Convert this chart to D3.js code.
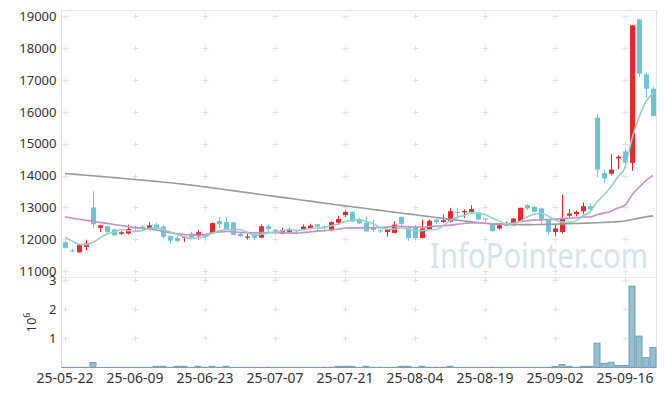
<!DOCTYPE html>
<html lang="en">
<head>
<meta charset="UTF-8">
<title>Price Chart</title>
<style>
    body {
        margin: 0;
        background: #fff;
        font-family: "Noto Sans", sans-serif;
    }
</style>
</head>
<body>
<div id="chart"></div>
<script src="https://d3js.org/d3.v7.min.js"></script>
<script>
// trading days
const dates = [
    '25-05-22','25-05-23','25-05-26','25-05-27','25-05-28','25-05-29','25-05-30',
    '25-06-02','25-06-04','25-06-05','25-06-09','25-06-10','25-06-11','25-06-12','25-06-13',
    '25-06-16','25-06-17','25-06-18','25-06-19','25-06-20',
    '25-06-23','25-06-24','25-06-25','25-06-26','25-06-27','25-06-30',
    '25-07-01','25-07-02','25-07-03','25-07-04','25-07-07','25-07-08','25-07-09','25-07-10','25-07-11',
    '25-07-14','25-07-15','25-07-16','25-07-17','25-07-18','25-07-21','25-07-22','25-07-23','25-07-24','25-07-25',
    '25-07-28','25-07-29','25-07-30','25-07-31','25-08-01','25-08-04','25-08-05','25-08-06','25-08-07','25-08-08',
    '25-08-11','25-08-12','25-08-13','25-08-14','25-08-18','25-08-19','25-08-20','25-08-21','25-08-22',
    '25-08-25','25-08-26','25-08-27','25-08-28','25-08-29','25-09-01','25-09-02','25-09-03','25-09-04','25-09-05',
    '25-09-08','25-09-09','25-09-10','25-09-11','25-09-12','25-09-15','25-09-16','25-09-17','25-09-18','25-09-19','25-09-22'
];

const open = [
    11910, 11650, 11590, 11760, 13000, 12360, 12410, 12310, 12170, 12180,
    12390, 12400, 12360, 12460, 12400, 12100, 12040, 12050, 12180, 12100,
    12160, 12200, 12570, 12540, 12530, 12170, 12050, 12150, 12050, 12410,
    12300, 12180, 12230, 12280, 12320, 12350, 12470, 12410, 12300, 12520,
    12760, 12860, 12620, 12520, 12390, 12280, 12230, 12200, 12700, 12360,
    12390, 12040, 12310, 12620, 12540, 12550, 12860, 12850, 12860, 12810,
    12650, 12500, 12340, 12450, 12440, 12550, 13070, 13020, 12970, 12620,
    12230, 12230, 12740, 12790, 12880, 13040, 15820, 14080, 14060, 14540,
    14760, 14400, 18900, 17180, 16730
];
const high = [
    11930, 11690, 11840, 11990, 13510, 12450, 12430, 12340, 12250, 12460,
    12420, 12440, 12540, 12520, 12450, 12110, 12100, 12110, 12240, 12290,
    12180, 12520, 12700, 12690, 12540, 12200, 12200, 12180, 12470, 12460,
    12330, 12360, 12360, 12310, 12470, 12490, 12490, 12430, 12560, 12740,
    12900, 12880, 12680, 12700, 12620, 12320, 12320, 12560, 12720, 12370,
    12450, 12620, 12620, 12640, 12780, 12990, 12980, 12940, 13070, 12820,
    12660, 12510, 12500, 12560, 12670, 12990, 13100, 13040, 12990, 12640,
    12450, 13390, 12950, 12900, 13160, 13130, 15930, 14190, 14670, 14640,
    14850, 18720, 18920, 17230, 16780
];
const low = [
    11700, 11580, 11580, 11650, 12350, 12230, 12160, 12100, 12140, 12150,
    12270, 12300, 12330, 12290, 12030, 11870, 11900, 11920, 12000, 11990,
    12010, 12190, 12340, 12290, 12130, 12080, 11990, 11970, 12030, 12230,
    12150, 12160, 12200, 12160, 12300, 12330, 12260, 12220, 12280, 12450,
    12700, 12540, 12480, 12230, 12220, 12200, 12080, 12190, 12430, 11950,
    11990, 12030, 12300, 12480, 12520, 12530, 12700, 12680, 12850, 12590,
    12520, 12240, 12300, 12420, 12430, 12540, 12920, 12840, 12490, 12150,
    12100, 12180, 12690, 12720, 12790, 12900, 13960, 13760, 14000, 14210,
    14230, 14150, 17100, 16450, 15860
];
const close = [
    11730, 11620, 11820, 11870, 12470, 12440, 12230, 12130, 12220, 12320,
    12340, 12360, 12440, 12330, 12080, 11960, 11950, 12080, 12050, 12220,
    12070, 12510, 12470, 12310, 12140, 12100, 12090, 12050, 12410, 12320,
    12240, 12290, 12280, 12260, 12400, 12430, 12400, 12350, 12540, 12640,
    12860, 12560, 12500, 12250, 12290, 12260, 12310, 12460, 12480, 12040,
    12040, 12340, 12580, 12540, 12600, 12880, 12830, 12890, 12950, 12620,
    12620, 12260, 12440, 12470, 12650, 12990, 12970, 12860, 12620, 12230,
    12340, 12650, 12810, 12860, 13040, 12940, 14190, 13910, 14190, 14590,
    14400, 18720, 17200, 16730, 15870
];

// moving averages
const ma5 = [
    12060, 11950, 11840, 11830, 11902, 12044, 12166, 12228, 12298, 12268,
    12248, 12274, 12336, 12358, 12310, 12234, 12152, 12080, 12024, 12052,
    12074, 12186, 12264, 12316, 12300, 12306, 12222, 12138, 12158, 12194,
    12222, 12262, 12308, 12278, 12294, 12332, 12354, 12368, 12424, 12472,
    12558, 12590, 12620, 12562, 12492, 12372, 12322, 12314, 12360, 12310,
    12266, 12272, 12296, 12308, 12420, 12588, 12686, 12748, 12830, 12834,
    12782, 12668, 12578, 12482, 12488, 12562, 12704, 12788, 12818, 12734,
    12604, 12540, 12530, 12578, 12740, 12860, 13168, 13388, 13654, 13964,
    14256, 15162, 15820, 16328, 16584
];
const ma20 = [
    12700, 12665, 12630, 12600, 12565, 12530, 12500, 12465, 12435, 12400,
    12370, 12345, 12315, 12290, 12250, 12210, 12170, 12150, 12140, 12133,
    12150, 12195, 12227, 12249, 12233, 12216, 12209, 12205, 12214, 12214,
    12209, 12206, 12198, 12194, 12210, 12234, 12256, 12270, 12294, 12315,
    12355, 12357, 12359, 12356, 12363, 12371, 12382, 12403, 12406, 12392,
    12382, 12385, 12400, 12414, 12424, 12446, 12468, 12495, 12515, 12514,
    12502, 12487, 12484, 12495, 12513, 12550, 12583, 12603, 12610, 12619,
    12634, 12650, 12661, 12677, 12699, 12702, 12770, 12821, 12883, 12982,
    13071, 13394, 13632, 13845, 14006
];
const maLong = [
    14065, 14047, 14029, 14011, 13993, 13975, 13956, 13937, 13918, 13899,
    13879, 13859, 13839, 13818, 13797, 13776, 13752, 13727, 13701, 13674,
    13646, 13617, 13587, 13557, 13527, 13497, 13467, 13437, 13407, 13377,
    13347, 13317, 13287, 13257, 13227, 13197, 13167, 13137, 13107, 13078,
    13049, 13021, 12993, 12965, 12937, 12909, 12881, 12853, 12825, 12797,
    12769, 12741, 12713, 12685, 12657, 12630, 12603, 12576, 12550, 12525,
    12502, 12486, 12476, 12468, 12463, 12460, 12460, 12462, 12466, 12470,
    12476, 12482, 12490, 12497, 12505, 12512, 12520, 12530, 12542, 12556,
    12575, 12620, 12665, 12705, 12735
];

const volume = [
    5000, 5000, 5000, 5000, 170000, 5000, 5000, 5000, 5000, 5000,
    5000, 5000, 5000, 40000, 40000, 5000, 40000, 40000, 5000, 40000,
    5000, 40000, 5000, 40000, 5000, 5000, 5000, 5000, 5000, 5000,
    5000, 5000, 5000, 5000, 5000, 5000, 5000, 5000, 5000, 40000,
    40000, 40000, 5000, 40000, 5000, 5000, 5000, 5000, 40000, 40000,
    5000, 40000, 5000, 5000, 5000, 40000, 5000, 5000, 5000, 5000,
    5000, 5000, 5000, 5000, 5000, 5000, 5000, 5000, 5000, 5000,
    40000, 100000, 40000, 5000, 40000, 40000, 840000, 140000, 180000, 70000,
    70000, 2800000, 1080000, 340000, 690000
];

const priceTicks = [11000, 12000, 13000, 14000, 15000, 16000, 17000, 18000, 19000];
const volumeTicks = [1e6, 2e6, 3e6];

// layout
const width = 665, height = 396;
const left = 61.5, right = 656.5;
const priceTop = 10, priceBottom = 277.5, volBottom = 367.5;

const svg = d3.select('#chart')
    .append('svg')
    .attr('width', width)
    .attr('height', height);

const x = d3.scaleBand().domain(dates).range([left, right]);
const y = d3.scaleLinear().domain([10800, 19200]).range([priceBottom, priceTop]);
const yv = d3.scaleLinear().domain([0, 3.1e6]).range([volBottom, priceBottom]);
const cx = d => x(d) + x.bandwidth() / 2;

const xTicks = dates.filter((d, i) => i % 10 === 0);

// watermark
svg.append('text')
    .attr('x', 430)
    .attr('y', 268)
    .attr('font-size', 34)
    .attr('fill', '#d3e3ec')
    .attr('textLength', 218)
    .attr('lengthAdjust', 'spacingAndGlyphs')
    .text('InfoPointer.com');

// grid crosses
const crosses = svg.append('g').attr('stroke', '#e2e2e2').attr('stroke-width', 1);
xTicks.forEach(d => {
    const px = Math.round(cx(d)) + 0.5;
    priceTicks.forEach(v => {
        const py = Math.round(y(v)) + 0.5;
        crosses.append('path').attr('d', `M${px - 3},${py}h6M${px},${py - 3}v6`);
    });
    volumeTicks.forEach(v => {
        const py = Math.round(yv(v)) + 0.5;
        crosses.append('path').attr('d', `M${px - 3},${py}h6M${px},${py - 3}v6`);
    });
});

// frame
const frame = svg.append('g').attr('stroke', '#e3e3e3').attr('fill', 'none');
frame.append('line').attr('x1', left).attr('x2', right).attr('y1', priceTop + 0.5).attr('y2', priceTop + 0.5);
frame.append('line').attr('x1', right).attr('x2', right).attr('y1', priceTop).attr('y2', volBottom);
frame.append('line').attr('x1', left).attr('x2', right).attr('y1', priceBottom).attr('y2', priceBottom);
frame.append('line').attr('x1', left).attr('x2', left).attr('y1', priceTop).attr('y2', volBottom).attr('stroke', '#dcdcdc');
frame.append('line').attr('x1', left).attr('x2', right).attr('y1', volBottom).attr('y2', volBottom).attr('stroke', '#d8d8d8');

// y axis labels (price)
svg.append('g')
    .attr('transform', `translate(${left},0)`)
    .call(d3.axisLeft(y).tickValues(priceTicks).tickSize(0).tickPadding(5).tickFormat(d3.format('d')))
    .call(g => g.select('.domain').remove())
    .call(g => g.selectAll('text').attr('font-size', 13).attr('font-family', '"Noto Sans", sans-serif').attr('fill', '#333'));

// y axis labels (volume)
svg.append('g')
    .attr('transform', `translate(${left},0)`)
    .call(d3.axisLeft(yv).tickValues(volumeTicks).tickSize(0).tickPadding(5).tickFormat(d => d / 1e6))
    .call(g => g.select('.domain').remove())
    .call(g => g.selectAll('text').attr('font-size', 13).attr('font-family', '"Noto Sans", sans-serif').attr('fill', '#333'));

const unit = svg.append('text')
    .attr('transform', `translate(36,${(priceBottom + volBottom) / 2}) rotate(-90)`)
    .attr('text-anchor', 'middle')
    .attr('font-size', 13)
    .attr('fill', '#333');
unit.append('tspan').text('10');
unit.append('tspan').attr('dy', -6).attr('font-size', 9).text('6');

// x axis labels
svg.append('g')
    .attr('transform', `translate(0,${volBottom})`)
    .call(d3.axisBottom(x).tickValues(xTicks).tickSize(0).tickPadding(6))
    .call(g => g.select('.domain').remove())
    .call(g => g.selectAll('text').attr('font-size', 14).attr('font-family', '"Noto Sans", sans-serif').attr('fill', '#333'));

// volume bars
svg.append('g')
    .selectAll('rect')
    .data(dates)
    .join('rect')
    .attr('x', d => x(d) + 0.5)
    .attr('width', x.bandwidth() - 1)
    .attr('y', (d, i) => yv(volume[i]))
    .attr('height', (d, i) => volBottom - yv(volume[i]))
    .attr('fill', '#95bfd1')
    .attr('stroke', '#6e9fb8')
    .attr('stroke-width', 1);

// candles
const up = '#e8272e', down = '#6cc3da';
const candles = svg.append('g')
    .selectAll('g')
    .data(dates)
    .join('g');

candles.append('line')
    .attr('x1', d => Math.round(cx(d)) + 0.5)
    .attr('x2', d => Math.round(cx(d)) + 0.5)
    .attr('y1', (d, i) => y(high[i]))
    .attr('y2', (d, i) => y(low[i]))
    .attr('stroke', (d, i) => close[i] >= open[i] ? up : down)
    .attr('stroke-width', 1);

candles.append('rect')
    .attr('x', d => Math.round(cx(d)) + 0.5 - 2.5)
    .attr('width', 5)
    .attr('y', (d, i) => y(Math.max(open[i], close[i])))
    .attr('height', (d, i) => Math.max(1, Math.abs(y(open[i]) - y(close[i]))))
    .attr('fill', (d, i) => close[i] >= open[i] ? up : down);

// moving average lines
const lineGen = vals => d3.line()
    .x(d => cx(d))
    .y((d, i) => y(vals[i]))
    .curve(d3.curveMonotoneX)(dates);

[[maLong, '#9a9a9a'], [ma20, '#c98fc6'], [ma5, '#92d2c6']].forEach(([vals, color]) => {
    svg.append('path')
        .attr('d', lineGen(vals))
        .attr('fill', 'none')
        .attr('stroke', color)
        .attr('stroke-width', 1.6);
});
</script>
</body>
</html>
